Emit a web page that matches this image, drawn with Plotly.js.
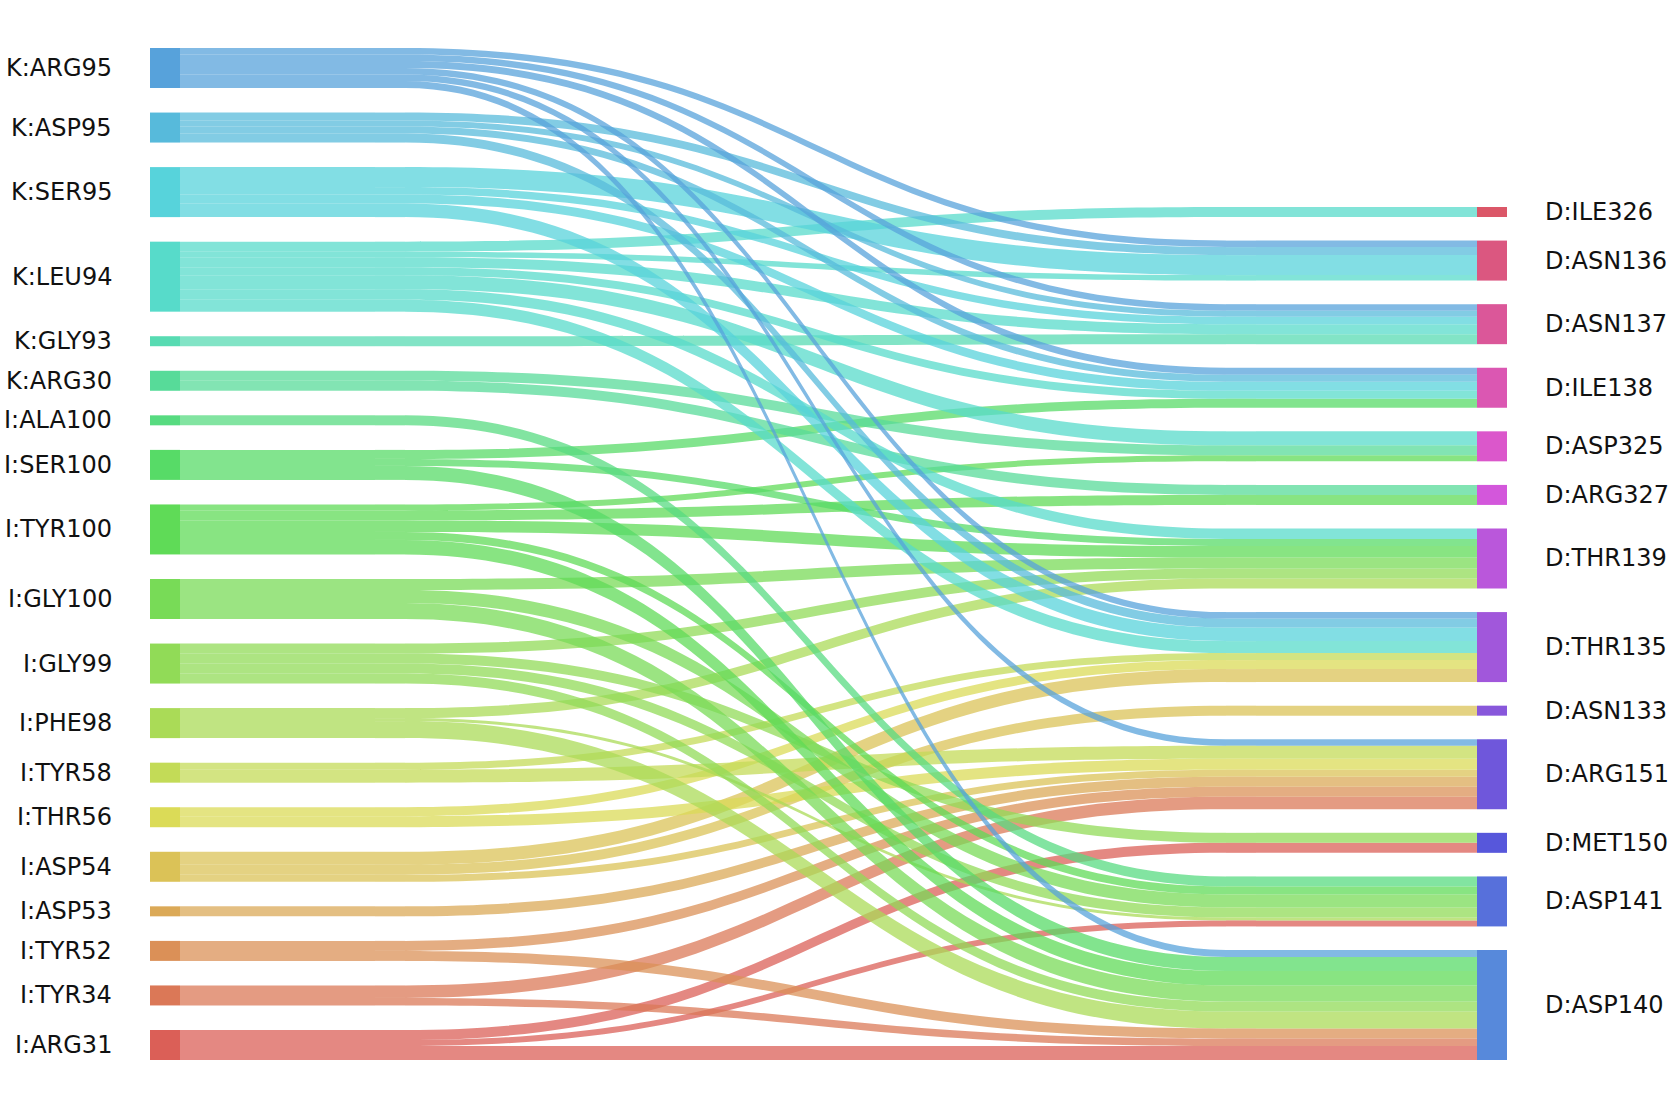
<!DOCTYPE html>
<html>
<head>
<meta charset="utf-8">
<script src="https://cdn.plot.ly/plotly-3.0.1.min.js"></script>
<style>html,body{margin:0;padding:0;background:#fff}#chart{width:1672px;height:1108px}</style>
</head>
<body>
<div id="chart"></div>
<script>
// ---------------- DATA ----------------
const leftNodes = ['K:ARG95','K:ASP95','K:SER95','K:LEU94','K:GLY93','K:ARG30','I:ALA100','I:SER100',
  'I:TYR100','I:GLY100','I:GLY99','I:PHE98','I:TYR58','I:THR56','I:ASP54','I:ASP53','I:TYR52','I:TYR34','I:ARG31'];
const rightNodes = ['D:ILE326','D:ASN136','D:ASN137','D:ILE138','D:ASP325','D:ARG327','D:THR139',
  'D:THR135','D:ASN133','D:ARG151','D:MET150','D:ASP141','D:ASP140'];

const linkSource = [
 'K:ARG95','K:ARG95','K:ARG95','K:ARG95','K:ARG95','K:ARG95',
 'K:ASP95','K:ASP95','K:ASP95','K:ASP95',
 'K:SER95','K:SER95','K:SER95','K:SER95',
 'K:LEU94','K:LEU94','K:LEU94','K:LEU94','K:LEU94','K:LEU94','K:LEU94',
 'K:GLY93',
 'K:ARG30','K:ARG30',
 'I:ALA100',
 'I:SER100','I:SER100','I:SER100',
 'I:TYR100','I:TYR100','I:TYR100','I:TYR100','I:TYR100',
 'I:GLY100','I:GLY100','I:GLY100',
 'I:GLY99','I:GLY99','I:GLY99','I:GLY99',
 'I:PHE98','I:PHE98','I:PHE98',
 'I:TYR58','I:TYR58',
 'I:THR56','I:THR56',
 'I:ASP54','I:ASP54','I:ASP54',
 'I:ASP53',
 'I:TYR52','I:TYR52',
 'I:TYR34','I:TYR34',
 'I:ARG31','I:ARG31','I:ARG31'];
const linkTarget = [
 'D:ASN136','D:ASN137','D:ILE138','D:THR135','D:ARG151','D:ASP140',
 'D:ASN136','D:ASN137','D:ILE138','D:THR135',
 'D:ASN136','D:ASN137','D:ILE138','D:THR135',
 'D:ILE326','D:ASN136','D:ASN137','D:ILE138','D:ASP325','D:THR139','D:THR135',
 'D:ASN137',
 'D:ASP325','D:ARG327',
 'D:ASP141',
 'D:ILE138','D:THR139','D:ASP140',
 'D:ASP325','D:ARG327','D:THR139','D:ASP141','D:ASP140',
 'D:THR139','D:ASP141','D:ASP140',
 'D:THR139','D:MET150','D:ASP141','D:ASP140',
 'D:THR139','D:ASP141','D:ASP140',
 'D:THR135','D:ARG151',
 'D:THR135','D:ARG151',
 'D:THR135','D:ASN133','D:ARG151',
 'D:ARG151',
 'D:ARG151','D:ASP140',
 'D:ARG151','D:ASP140',
 'D:MET150','D:ASP141','D:ASP140'];
const linkValue = [
 0.65,0.65,0.7,0.65,0.65,0.7,
 0.8,0.6,0.7,0.9,
 2.0,0.75,0.9,1.35,
 1.0,0.55,1.0,0.8,1.4,1.05,1.2,
 1.0,
 1.0,1.0,
 1.0,
 0.9,0.7,1.4,
 0.6,1.0,1.15,0.8,1.45,
 1.1,1.3,1.6,
 1.0,1.0,1.0,1.0,
 1.0,0.3,1.7,
 0.7,1.3,
 0.9,1.1,
 1.3,1.0,0.7,
 1.0,
 1.0,1.0,
 1.25,0.75,
 1.0,0.6,1.4];

// ---------------- LAYOUT / STYLE ----------------
const PAGE_W = 1672, PAGE_H = 1108;
const PLOT_TOP = 48, PLOT_BOTTOM = 1060;
const H = PLOT_BOTTOM - PLOT_TOP;
const RIGHT_TOP = 207;
const TH = 30;                 // node thickness
const LEFT_X0 = 150, RIGHT_X0 = 1477;
const BEND_START = 405, BEND_END = 1226;
const KY = 10;                 // px per unit of value
const LINK_ALPHA = 0.74;
const FONT = 'DejaVu Sans, Verdana, sans-serif';
const FONT_SIZE = 24;

function hlsToRgb(h, l, s) {
  const v2 = l <= 0.5 ? l * (1 + s) : l + s - l * s;
  const v1 = 2 * l - v2;
  function f(hh) {
    hh = ((hh % 1) + 1) % 1;
    if (hh < 1/6) return v1 + (v2 - v1) * hh * 6;
    if (hh < 0.5) return v2;
    if (hh < 2/3) return v1 + (v2 - v1) * (2/3 - hh) * 6;
    return v1;
  }
  return [f(h + 1/3), f(h), f(h - 1/3)].map(x => Math.round(x * 255));
}
const paletteOrder = leftNodes.slice().reverse().concat(rightNodes.slice().reverse());
function nodeRGB(name) {
  const k = paletteOrder.indexOf(name);
  return hlsToRgb((0.01 + k / paletteOrder.length) % 1, 0.6, 0.65);
}
const rgba = (c, a) => `rgba(${c[0]},${c[1]},${c[2]},${a})`;

// node values
const nodeVal = {};
linkSource.forEach((s, i) => {
  nodeVal[s] = (nodeVal[s] || 0) + linkValue[i];
  nodeVal[linkTarget[i]] = (nodeVal[linkTarget[i]] || 0) + linkValue[i];
});

function stackColumn(names, top, bottom) {
  const hs = names.map(n => nodeVal[n] * KY);
  const sumH = hs.reduce((a, b) => a + b, 0);
  const gap = (bottom - top - sumH) / (names.length - 1);
  const pos = {}; let y = top;
  names.forEach((n, i) => { pos[n] = {y0: y, y1: y + hs[i], c: y + hs[i] / 2}; y += hs[i] + gap; });
  return pos;
}
const posL = stackColumn(leftNodes, 0, H);
const posR = stackColumn(rightNodes, RIGHT_TOP - PLOT_TOP, H);

const nL = linkValue.length;
const srcY = new Array(nL), tgtY = new Array(nL);
leftNodes.forEach(n => {
  const idx = [...Array(nL).keys()].filter(i => linkSource[i] === n)
    .sort((a, b) => posR[linkTarget[a]].c - posR[linkTarget[b]].c);
  let y = posL[n].y0;
  idx.forEach(i => { const w = linkValue[i] * KY; srcY[i] = y + w / 2; y += w; });
});
rightNodes.forEach(n => {
  const idx = [...Array(nL).keys()].filter(i => linkTarget[i] === n)
    .sort((a, b) => posL[linkSource[a]].c - posL[linkSource[b]].c);
  let y = posR[n].y0;
  idx.forEach(i => { const w = linkValue[i] * KY; tgtY[i] = y + w / 2; y += w; });
});

// build sankey nodes: real nodes + pass-through nodes that keep bundles flat near the ends
const nodeX = [], nodeY = [], nodeColor = [], nodeLabel = [];
leftNodes.forEach(n => { nodeX.push((LEFT_X0 + TH / 2) / PAGE_W); nodeY.push(posL[n].c / H); nodeColor.push(rgba(nodeRGB(n), 1)); nodeLabel.push(''); });
rightNodes.forEach(n => { nodeX.push((RIGHT_X0 + TH / 2) / PAGE_W); nodeY.push(posR[n].c / H); nodeColor.push(rgba(nodeRGB(n), 1)); nodeLabel.push(''); });
const baseA = nodeX.length, baseB = baseA + nL;
for (let i = 0; i < nL; i++) {
  nodeX.push((BEND_START - TH / 2) / PAGE_W); nodeY.push(srcY[i] / H);
  nodeColor.push(rgba(nodeRGB(linkSource[i]), LINK_ALPHA)); nodeLabel.push('');
}
for (let i = 0; i < nL; i++) {
  nodeX.push((BEND_END + TH / 2) / PAGE_W); nodeY.push(tgtY[i] / H);
  nodeColor.push(rgba(nodeRGB(linkSource[i]), LINK_ALPHA)); nodeLabel.push('');
}

const lS = [], lT = [], lV = [], lC = [];
for (let i = nL - 1; i >= 0; i--) {
  const s = leftNodes.indexOf(linkSource[i]);
  const t = leftNodes.length + rightNodes.indexOf(linkTarget[i]);
  const col = rgba(nodeRGB(linkSource[i]), LINK_ALPHA);
  [[s, baseA + i], [baseA + i, baseB + i], [baseB + i, t]].forEach(([a, b]) => {
    lS.push(a); lT.push(b); lV.push(linkValue[i]); lC.push(col);
  });
}

const totalValue = linkValue.reduce((a, b) => a + b, 0);
const pad = (H - KY * totalValue) / (nL - 1);

const trace = {
  type: 'sankey',
  arrangement: 'fixed',
  orientation: 'h',
  hoverinfo: 'none',
  domain: {x: [0, 1], y: [1 - PLOT_BOTTOM / PAGE_H, 1 - PLOT_TOP / PAGE_H]},
  node: {
    label: nodeLabel, x: nodeX, y: nodeY, color: nodeColor,
    thickness: TH, pad: pad, line: {width: 0, color: 'rgba(0,0,0,0)'}
  },
  link: {source: lS, target: lT, value: lV, color: lC, line: {width: 0}}
};

const annotations = [];
leftNodes.forEach(n => annotations.push({
  text: n, xref: 'paper', yref: 'paper', x: 114 / PAGE_W, y: 1 - (PLOT_TOP + posL[n].c) / PAGE_H,
  xanchor: 'right', yanchor: 'middle', showarrow: false, font: {family: FONT, size: FONT_SIZE, color: '#111'}
}));
rightNodes.forEach(n => annotations.push({
  text: n, xref: 'paper', yref: 'paper', x: 1543 / PAGE_W, y: 1 - (PLOT_TOP + posR[n].c) / PAGE_H,
  xanchor: 'left', yanchor: 'middle', showarrow: false, font: {family: FONT, size: FONT_SIZE, color: '#111'}
}));

const layout = {
  width: PAGE_W, height: PAGE_H,
  margin: {l: 0, r: 0, t: 0, b: 0},
  paper_bgcolor: '#ffffff',
  font: {family: FONT, size: FONT_SIZE, color: '#111'},
  showlegend: false,
  annotations: annotations
};

Plotly.newPlot('chart', [trace], layout, {displayModeBar: false, staticPlot: true});
</script>
</body>
</html>
